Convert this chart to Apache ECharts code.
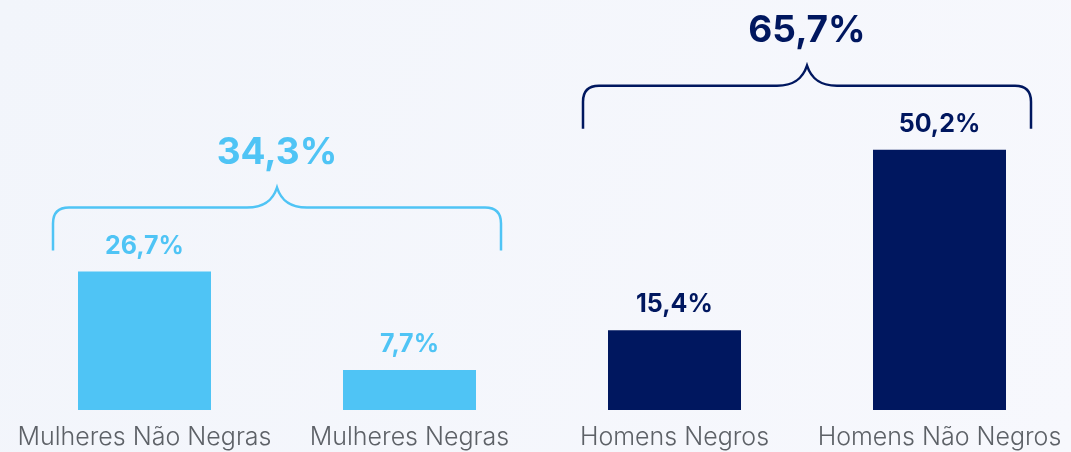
<!DOCTYPE html>
<html>
<head>
<meta charset="utf-8">
<title>ECharts</title>
<script src="https://cdn.jsdelivr.net/npm/echarts@6/dist/echarts.min.js"></script>
<style>
	html, body { margin: 0; padding: 0; background: #f5f7fc; }
</style>
</head>
<body>
	<div id="main" style="width: 1071px; height: 452px;"></div>
	<script type="text/javascript">
		// dados do gráfico
		var categorias = ['Mulheres Não Negras', 'Mulheres Negras', 'Homens Negros', 'Homens Não Negros'];
		var valores = [26.7, 7.7, 15.4, 50.2];
		var grupos = [0, 0, 1, 1];
		var totaisGrupo = [34.3, 65.7];
		var coresGrupo = ['#4fc4f5', '#00175f'];

		function fmt(v) {
			return v.toFixed(1).replace('.', ',') + '%';
		}

		// forma da chave "{" deitada
		var Chave = echarts.graphic.extendShape({
			shape: { x0: 0, x1: 0, yb: 0, yh: 0, yp: 0, r: 16 },
			buildPath: function (ctx, s) {
				var xc = (s.x0 + s.x1) / 2;
				ctx.moveTo(s.x0, s.yb);
				ctx.lineTo(s.x0, s.yh + s.r);
				ctx.quadraticCurveTo(s.x0, s.yh, s.x0 + s.r, s.yh);
				ctx.lineTo(xc - 30, s.yh);
				ctx.bezierCurveTo(xc - 12, s.yh, xc - 4, s.yh - 8, xc, s.yp);
				ctx.bezierCurveTo(xc + 4, s.yh - 8, xc + 12, s.yh, xc + 30, s.yh);
				ctx.lineTo(s.x1 - s.r, s.yh);
				ctx.quadraticCurveTo(s.x1, s.yh, s.x1, s.yh + s.r);
				ctx.lineTo(s.x1, s.yb);
			}
		});
		echarts.graphic.registerShape('chave', Chave);

		var myChart = echarts.init(document.getElementById('main'));

		var dados = [];
		for (var i = 0; i < valores.length; i++) {
			dados.push({
				value: valores[i],
				itemStyle: { color: coresGrupo[grupos[i]] },
				label: { color: coresGrupo[grupos[i]] }
			});
		}

		var option = {
			backgroundColor: new echarts.graphic.LinearGradient(0, 0, 1, 1, [
				{ offset: 0, color: '#f2f5fb' },
				{ offset: 1, color: '#f7f8fd' }
			]),
			animation: false,
			grid: {
				left: 12,
				width: 1060,
				bottom: 42,
				top: 47,
				outerBoundsMode: 'none'
			},
			xAxis: {
				type: 'category',
				data: categorias,
				axisLine: { show: false },
				axisTick: { show: false },
				axisLabel: {
					interval: 0,
					margin: 15,
					fontFamily: 'Inter',
					fontWeight: 300,
					fontSize: 25,
					color: '#5d6167'
				}
			},
			yAxis: {
				type: 'value',
				min: 0,
				max: 70,
				show: false,
				splitLine: { show: false }
			},
			series: [{
				type: 'bar',
				barWidth: 133,
				data: dados,
				label: {
					show: true,
					position: 'top',
					distance: 13,
					fontFamily: 'Inter',
					fontWeight: 'bold',
					fontSize: 25,
					formatter: function (p) { return fmt(p.value); }
				}
			}]
		};
		myChart.setOption(option);

		// chaves e totais por grupo
		function desenhaChaves() {
			var graficos = [];
			for (var g = 0; g < totaisGrupo.length; g++) {
				var xs = [], topo = Infinity;
				for (var i = 0; i < valores.length; i++) {
					if (grupos[i] !== g) continue;
					var p = myChart.convertToPixel({ seriesIndex: 0 }, [i, valores[i]]);
					xs.push(p[0]);
					topo = Math.min(topo, p[1]);
				}
				var x0 = Math.min.apply(null, xs) - 133 / 2 - 25;
				var x1 = Math.max.apply(null, xs) + 133 / 2 + 25;
				var yh = topo - 64;
				var yp = yh - 20;
				graficos.push({
					type: 'chave',
					shape: { x0: x0, x1: x1, yb: topo - 21, yh: yh, yp: yp, r: 16 },
					style: { fill: null, stroke: coresGrupo[g], lineWidth: 2.5 }
				});
				graficos.push({
					type: 'text',
					x: (x0 + x1) / 2,
					y: yp - 16,
					style: {
						text: fmt(totaisGrupo[g]),
						fill: coresGrupo[g],
						font: 'bold 37px Inter',
						align: 'center',
						verticalAlign: 'bottom'
					}
				});
			}
			myChart.setOption({ graphic: graficos });
		}
		desenhaChaves();
	</script>
</body>
</html>
